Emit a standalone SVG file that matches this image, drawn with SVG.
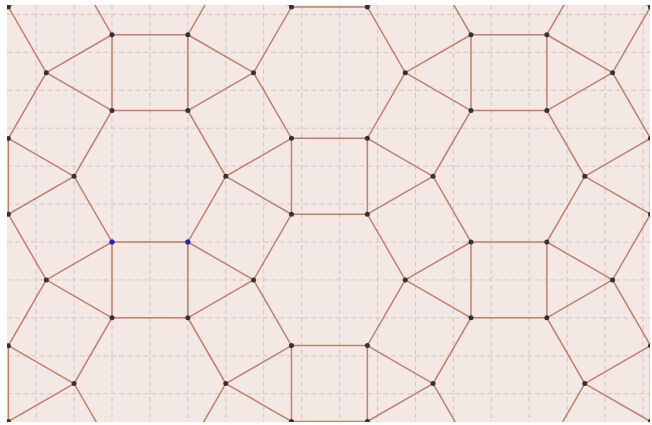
<svg xmlns="http://www.w3.org/2000/svg" xmlns:xlink="http://www.w3.org/1999/xlink" width="652" height="425" viewBox="0 0 652 425">
  <style>
    .bg { fill: #f4e8e4; }
    .grid { stroke: #cfc6c4; stroke-width: 1; stroke-dasharray: 5 3; fill: none; }
    .edge { stroke: #c0806a; stroke-width: 1.5; fill: none; stroke-linecap: round; }
    .pt { fill: #333333; }
    .pt-blue { fill: #2026c8; }
  </style>
  <defs>
    <clipPath id="view">
      <rect x="7" y="5" width="643" height="417"/>
    </clipPath>
    <g id="tileEdges">
      <path class="edge" d="M75.86,0 L37.93,65.70 L-37.93,65.70 L-75.86,0 L-37.93,-65.70 L37.93,-65.70 Z"/>
      <path class="edge" d="M37.93,65.70 V141.56 M-37.93,65.70 V141.56 M75.86,0 L141.56,37.93 M37.93,65.70 L103.63,103.63 M37.93,-65.70 L103.63,-103.63 M75.86,0 L141.56,-37.93"/>
    </g>
    <g id="tileDots">
      <circle class="pt" cx="75.86" cy="0" r="2.5"/>
      <circle class="pt" cx="37.93" cy="65.70" r="2.5"/>
      <circle class="pt" cx="-37.93" cy="65.70" r="2.5"/>
      <circle class="pt" cx="-75.86" cy="0" r="2.5"/>
      <circle class="pt" cx="-37.93" cy="-65.70" r="2.5"/>
      <circle class="pt" cx="37.93" cy="-65.70" r="2.5"/>
    </g>
  </defs>

  <rect class="bg" x="7" y="5" width="643" height="417"/>

  <g id="grid" clip-path="url(#view)">
    <path class="grid" d="M36.14,5 V422 M74.07,5 V422 M112,5 V422 M149.93,5 V422 M187.86,5 V422 M225.79,5 V422 M263.72,5 V422 M301.65,5 V422 M339.58,5 V422 M377.51,5 V422 M415.44,5 V422 M453.37,5 V422 M491.3,5 V422 M529.23,5 V422 M567.16,5 V422 M605.09,5 V422 M643.02,5 V422"/>
    <path class="grid" d="M7,14.42 H650 M7,52.35 H650 M7,90.28 H650 M7,128.21 H650 M7,166.14 H650 M7,204.07 H650 M7,242 H650 M7,279.93 H650 M7,317.86 H650 M7,355.79 H650 M7,393.72 H650"/>
  </g>

  <g id="connectors" clip-path="url(#view)">
    <use xlink:href="#tileEdges" href="#tileEdges" transform="translate(-29.56,-134.57)"/>
    <use xlink:href="#tileEdges" href="#tileEdges" transform="translate(-29.56,72.68)"/>
    <use xlink:href="#tileEdges" href="#tileEdges" transform="translate(-29.56,279.93)"/>
    <use xlink:href="#tileEdges" href="#tileEdges" transform="translate(-29.56,487.18)"/>
    <use xlink:href="#tileEdges" href="#tileEdges" transform="translate(149.93,-30.95)"/>
    <use xlink:href="#tileEdges" href="#tileEdges" transform="translate(149.93,176.30)"/>
    <use xlink:href="#tileEdges" href="#tileEdges" transform="translate(149.93,383.55)"/>
    <use xlink:href="#tileEdges" href="#tileEdges" transform="translate(329.42,-134.58)"/>
    <use xlink:href="#tileEdges" href="#tileEdges" transform="translate(329.42,72.67)"/>
    <use xlink:href="#tileEdges" href="#tileEdges" transform="translate(329.42,279.92)"/>
    <use xlink:href="#tileEdges" href="#tileEdges" transform="translate(329.42,487.17)"/>
    <use xlink:href="#tileEdges" href="#tileEdges" transform="translate(508.91,-30.96)"/>
    <use xlink:href="#tileEdges" href="#tileEdges" transform="translate(508.91,176.29)"/>
    <use xlink:href="#tileEdges" href="#tileEdges" transform="translate(508.91,383.54)"/>
    <use xlink:href="#tileEdges" href="#tileEdges" transform="translate(688.40,-134.59)"/>
    <use xlink:href="#tileEdges" href="#tileEdges" transform="translate(688.40,72.66)"/>
    <use xlink:href="#tileEdges" href="#tileEdges" transform="translate(688.40,279.91)"/>
    <use xlink:href="#tileEdges" href="#tileEdges" transform="translate(688.40,487.16)"/>
  </g>

  <g id="points" clip-path="url(#view)">
    <use xlink:href="#tileDots" href="#tileDots" transform="translate(-29.56,-134.57)"/>
    <use xlink:href="#tileDots" href="#tileDots" transform="translate(-29.56,72.68)"/>
    <use xlink:href="#tileDots" href="#tileDots" transform="translate(-29.56,279.93)"/>
    <use xlink:href="#tileDots" href="#tileDots" transform="translate(-29.56,487.18)"/>
    <use xlink:href="#tileDots" href="#tileDots" transform="translate(149.93,-30.95)"/>
    <use xlink:href="#tileDots" href="#tileDots" transform="translate(149.93,176.30)"/>
    <use xlink:href="#tileDots" href="#tileDots" transform="translate(149.93,383.55)"/>
    <use xlink:href="#tileDots" href="#tileDots" transform="translate(329.42,-134.58)"/>
    <use xlink:href="#tileDots" href="#tileDots" transform="translate(329.42,72.67)"/>
    <use xlink:href="#tileDots" href="#tileDots" transform="translate(329.42,279.92)"/>
    <use xlink:href="#tileDots" href="#tileDots" transform="translate(329.42,487.17)"/>
    <use xlink:href="#tileDots" href="#tileDots" transform="translate(508.91,-30.96)"/>
    <use xlink:href="#tileDots" href="#tileDots" transform="translate(508.91,176.29)"/>
    <use xlink:href="#tileDots" href="#tileDots" transform="translate(508.91,383.54)"/>
    <use xlink:href="#tileDots" href="#tileDots" transform="translate(688.40,-134.59)"/>
    <use xlink:href="#tileDots" href="#tileDots" transform="translate(688.40,72.66)"/>
    <use xlink:href="#tileDots" href="#tileDots" transform="translate(688.40,279.91)"/>
    <use xlink:href="#tileDots" href="#tileDots" transform="translate(688.40,487.16)"/>
  </g>

  <g id="pointA">
    <circle class="pt-blue" cx="112" cy="242" r="2.5"/>
  </g>
  <g id="pointB">
    <circle class="pt-blue" cx="187.86" cy="242" r="2.5"/>
  </g>
</svg>
